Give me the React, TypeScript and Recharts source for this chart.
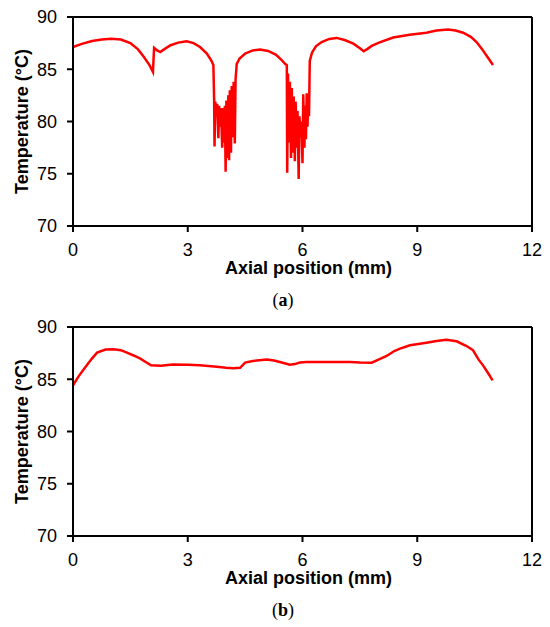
import React from "react";
import { LineChart, Line, XAxis, YAxis, ReferenceLine } from "recharts";

// Panel (a): axial position (mm) and temperature (°C)
const topPosition = [
  0.0, 0.25, 0.5, 0.75, 1.0, 1.25, 1.5, 1.7, 1.85, 2.0, 2.09, 2.12, 2.2, 2.28, 2.4, 2.55, 2.75, 2.97, 3.15, 3.32, 3.5, 3.62,
  3.67, 3.69, 3.7, 3.72, 3.75, 3.77, 3.8, 3.82, 3.85, 3.87, 3.9, 3.92, 3.95, 3.97, 3.99, 4.01, 4.04, 4.06, 4.08, 4.1, 4.13,
  4.15, 4.18, 4.2, 4.23, 4.25, 4.28, 4.35, 4.5, 4.7, 4.89, 5.1, 5.3, 5.45, 5.55,
  5.59, 5.6, 5.62, 5.65, 5.67, 5.7, 5.72, 5.75, 5.77, 5.8, 5.82, 5.85, 5.87, 5.9, 5.92, 5.95, 5.97, 6.0, 6.02, 6.05, 6.07,
  6.09, 6.11, 6.13, 6.15, 6.17, 6.19, 6.25, 6.35, 6.5, 6.7, 6.89, 7.1, 7.33, 7.5, 7.6, 7.7, 7.81, 8.0, 8.37, 8.8, 9.24, 9.5,
  9.81, 10.0, 10.2, 10.4, 10.55, 10.7, 10.85, 10.98,
];
const topTemperature = [
  87.13, 87.45, 87.7, 87.85, 87.93, 87.85, 87.5, 86.9, 86.2, 85.4, 84.75, 87.05, 86.8, 86.65, 86.95, 87.3, 87.55, 87.67, 87.5,
  87.13, 86.5, 85.8,
  85.4, 82.0, 77.6, 81.9, 80.5, 81.7, 78.4, 81.5, 79.5, 81.3, 77.5, 81.3, 78.0, 81.5, 75.2, 82.0, 76.5, 82.5, 76.3, 83.0, 77.0,
  83.4, 78.5, 83.8, 77.9, 84.0, 85.5, 86.0, 86.5, 86.8, 86.88, 86.75, 86.4, 85.9, 85.5,
  85.4, 75.1, 84.6, 78.0, 83.8, 76.5, 83.2, 77.0, 82.4, 76.2, 81.9, 77.5, 81.0, 74.5, 80.5, 78.5, 80.0, 76.0, 82.6, 77.5, 81.5,
  78.3, 82.7, 79.5, 82.0, 80.5, 85.8, 86.6, 87.2, 87.6, 87.9, 88.0, 87.8, 87.45, 87.0, 86.72, 86.95, 87.23, 87.55, 88.03, 88.3,
  88.5, 88.7, 88.8, 88.7, 88.5, 88.1, 87.6, 86.9, 86.1, 85.4,
];

// Panel (b)
const bottomPosition = [
  0, 0.15, 0.36, 0.5, 0.63, 0.85, 1.06, 1.25, 1.41, 1.6, 1.76, 1.9, 2.04, 2.3, 2.6, 3.0, 3.32, 3.76, 4.0, 4.19, 4.37, 4.5,
  4.7, 5.07, 5.25, 5.41, 5.67, 5.8, 5.93, 6.11, 7.24, 7.5, 7.81, 8.0, 8.2, 8.4, 8.55, 8.81, 9.24, 9.5, 9.76, 10.03, 10.29,
  10.46, 10.6, 10.72, 10.85, 10.97,
];
const bottomTemperature = [
  84.42, 85.3, 86.33, 87.0, 87.55, 87.85, 87.87, 87.78, 87.55, 87.25, 86.97, 86.65, 86.33, 86.3, 86.4, 86.38, 86.33, 86.2,
  86.1, 86.05, 86.1, 86.6, 86.75, 86.88, 86.8, 86.65, 86.4, 86.45, 86.6, 86.65, 86.65, 86.6, 86.59, 86.9, 87.23, 87.7, 87.93,
  88.25, 88.5, 88.65, 88.79, 88.63, 88.18, 87.77, 86.9, 86.33, 85.6, 84.9,
];

const xTicks = [0, 3, 6, 9, 12];
const yTicks = [70, 75, 80, 85, 90];
const xTitle = "Axial position (mm)";
const yTitle = "Temperature (°C)";

const topData = topPosition.map((x, i) => ({ x, t: topTemperature[i] }));
const bottomData = bottomPosition.map((x, i) => ({ x, t: bottomTemperature[i] }));

const sans = "'Liberation Sans', Arial, sans-serif";
const tickStyle = { fontFamily: sans, fontSize: 18, fill: "#000" };

function Panel({ data }: { data: { x: number; t: number }[] }) {
  return (
    <LineChart width={550} height={310} data={data} margin={{ top: 17, right: 18, bottom: 34, left: 0 }}>
      <XAxis
        dataKey="x"
        type="number"
        domain={[0, 12]}
        ticks={xTicks}
        interval={0}
        stroke="#000"
        strokeWidth={2}
        tickSize={6}
        tickMargin={11}
        tick={tickStyle}
        height={50}
        label={{
          value: xTitle,
          position: "insideBottom",
          offset: 2,
          dx: 6,
          style: { fontFamily: sans, fontSize: 18, fontWeight: "bold", fill: "#000" },
        }}
      />
      <YAxis
        type="number"
        domain={[70, 90]}
        ticks={yTicks}
        interval={0}
        width={73}
        stroke="#000"
        strokeWidth={2}
        tickSize={6}
        tickMargin={10}
        tick={tickStyle}
        label={{
          value: yTitle,
          angle: -90,
          position: "insideLeft",
          offset: 22,
          style: { fontFamily: sans, fontSize: 18, fontWeight: "bold", fill: "#000", textAnchor: "middle" },
        }}
      />
      <ReferenceLine y={90} stroke="#000" strokeWidth={2} />
      <ReferenceLine x={12} stroke="#000" strokeWidth={2} />
      <Line
        type="linear"
        dataKey="t"
        stroke="#ff0000"
        strokeWidth={2.5}
        dot={false}
        isAnimationActive={false}
      />
    </LineChart>
  );
}

const capStyle: React.CSSProperties = {
  position: "absolute",
  left: 8,
  width: 550,
  textAlign: "center",
  fontFamily: "'Liberation Serif', 'Times New Roman', serif",
  fontSize: 18,
  lineHeight: "20px",
  color: "#000",
};

export default function App() {
  return (
    <div style={{ position: "absolute", left: 0, top: 0, width: 550, height: 627, background: "#fff" }}>
      <div style={{ position: "absolute", left: 0, top: 0 }}>
        <Panel data={topData} />
      </div>
      <div style={{ ...capStyle, top: 290 }}>
        (<b>a</b>)
      </div>
      <div style={{ position: "absolute", left: 0, top: 310 }}>
        <Panel data={bottomData} />
      </div>
      <div style={{ ...capStyle, top: 600 }}>
        (<b>b</b>)
      </div>
    </div>
  );
}
